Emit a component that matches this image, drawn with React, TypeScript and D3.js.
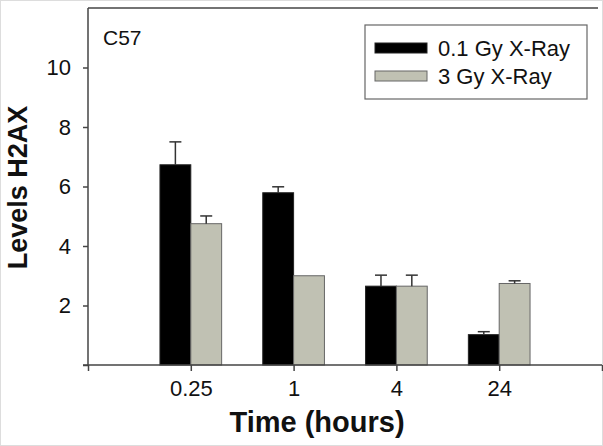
import React, { useEffect, useRef } from "react";
import * as d3 from "d3";

const categories = ["0.25", "1", "4", "24"];
const lowDose = [6.73, 5.79, 2.65, 1.02];
const lowDoseErr = [0.77, 0.2, 0.37, 0.1];
const highDose = [4.75, 3.0, 2.65, 2.74];
const highDoseErr = [0.26, 0.0, 0.37, 0.09];
const yTicks = [2, 4, 6, 8, 10];
const seriesNames = ["0.1 Gy X-Ray", "3 Gy X-Ray"];

const App = () => {
  const svgRef = useRef<SVGSVGElement>(null);

  useEffect(() => {
    const svg = d3.select(svgRef.current);
    svg.selectAll("*").remove();

    const width = 603;
    const height = 446;
    const margin = { top: 8, right: 1, bottom: 81, left: 88 };
    const font = "'Liberation Sans', Arial, sans-serif";

    // light frame round the picture
    svg
      .append("rect")
      .attr("x", 0.5)
      .attr("y", 0.5)
      .attr("width", width - 1)
      .attr("height", height - 1)
      .attr("fill", "#fff")
      .attr("stroke", "#ddd");

    const x = d3
      .scaleLinear()
      .domain([0, categories.length + 1])
      .range([margin.left, width - margin.right]);

    const y = d3
      .scaleLinear()
      .domain([0, 12])
      .range([height - margin.bottom, margin.top]);

    const barW = x(0.3) - x(0);
    const colors = ["#000000", "#c0c1b3"];
    const strokes = ["#222", "#666"];
    const series = [
      { vals: lowDose, errs: lowDoseErr, offset: -barW },
      { vals: highDose, errs: highDoseErr, offset: 0 },
    ];

    // top line
    svg
      .append("line")
      .attr("x1", margin.left)
      .attr("x2", width - 5)
      .attr("y1", y(12))
      .attr("y2", y(12))
      .attr("stroke", "#444")
      .attr("stroke-width", 1.5);

    series.forEach((s, si) => {
      const g = svg.append("g");
      g.selectAll("rect")
        .data(s.vals)
        .join("rect")
        .attr("x", (d, i) => x(i + 1) + s.offset)
        .attr("y", (d) => y(d))
        .attr("width", barW)
        .attr("height", (d) => y(0) - y(d))
        .attr("fill", colors[si])
        .attr("stroke", strokes[si])
        .attr("stroke-width", 1);

      // error bars (upper only)
      s.vals.forEach((v, i) => {
        if (s.errs[i] <= 0) return;
        const cx = x(i + 1) + s.offset + barW / 2;
        g.append("line")
          .attr("x1", cx)
          .attr("x2", cx)
          .attr("y1", y(v))
          .attr("y2", y(v + s.errs[i]))
          .attr("stroke", "#333")
          .attr("stroke-width", 1.5);
        g.append("line")
          .attr("x1", cx - 6)
          .attr("x2", cx + 6)
          .attr("y1", y(v + s.errs[i]))
          .attr("y2", y(v + s.errs[i]))
          .attr("stroke", "#333")
          .attr("stroke-width", 1.5);
      });
    });

    // Y axis
    const yAxis = svg
      .append("g")
      .attr("transform", `translate(${margin.left},0)`)
      .call(
        d3
          .axisLeft(y)
          .tickValues([0, ...yTicks])
          .tickSize(5)
          .tickFormat((d) => (d === 0 ? "" : String(d)))
      );
    yAxis.select(".domain").attr("stroke", "#444").attr("stroke-width", 1.5)
      .attr("d", `M0,${y(0)}V${y(12)}`);
    yAxis.selectAll(".tick line").attr("stroke", "#444").attr("stroke-width", 1.5);
    yAxis
      .selectAll(".tick text")
      .attr("font-family", font)
      .attr("font-size", 22)
      .attr("fill", "#111")
      .attr("x", -17);

    // X axis
    const xAxis = svg
      .append("g")
      .attr("transform", `translate(0,${y(0)})`)
      .call(
        d3
          .axisBottom(x)
          .tickValues([0, 1, 2, 3, 4, 5])
          .tickSize(6)
          .tickFormat((d) => categories[(d as number) - 1] ?? "")
      );
    xAxis.select(".domain").attr("stroke", "#444").attr("stroke-width", 1.5)
      .attr("d", `M${margin.left - 5},0H${width - 1}`);
    xAxis.selectAll(".tick line").attr("stroke", "#444").attr("stroke-width", 1.5);
    xAxis
      .selectAll(".tick text")
      .attr("font-family", font)
      .attr("font-size", 22)
      .attr("fill", "#111")
      .attr("y", 15);

    // axis titles
    svg
      .append("text")
      .attr("transform", `translate(27,${(y(0) + y(12)) / 2 + 1}) rotate(-90)`)
      .attr("text-anchor", "middle")
      .attr("font-family", font)
      .attr("font-weight", "bold")
      .attr("font-size", 27)
      .attr("fill", "#111")
      .text("Levels H2AX");

    svg
      .append("text")
      .attr("x", 317)
      .attr("y", 432)
      .attr("text-anchor", "middle")
      .attr("font-family", font)
      .attr("font-weight", "bold")
      .attr("font-size", 29)
      .attr("fill", "#111")
      .text("Time (hours)");

    svg
      .append("text")
      .attr("x", 103)
      .attr("y", 45)
      .attr("font-family", font)
      .attr("font-size", 21)
      .attr("fill", "#111")
      .text("C57");

    // legend
    const lg = svg.append("g");
    lg.append("rect")
      .attr("x", 365)
      .attr("y", 25)
      .attr("width", 222)
      .attr("height", 74)
      .attr("fill", "#fff")
      .attr("stroke", "#666")
      .attr("stroke-width", 1.2);
    seriesNames.forEach((name, i) => {
      lg.append("rect")
        .attr("x", 375)
        .attr("y", 43 + i * 28)
        .attr("width", 52)
        .attr("height", 10)
        .attr("fill", colors[i])
        .attr("stroke", strokes[i]);
      lg.append("text")
        .attr("x", 438)
        .attr("y", 55.5 + i * 28)
        .attr("font-family", font)
        .attr("font-size", 22)
        .attr("fill", "#111")
        .text(name);
    });
  }, []);

  return (
    <svg
      ref={svgRef}
      width={603}
      height={446}
      style={{ position: "absolute", left: 0, top: 0, display: "block" }}
    ></svg>
  );
};

export default App;
